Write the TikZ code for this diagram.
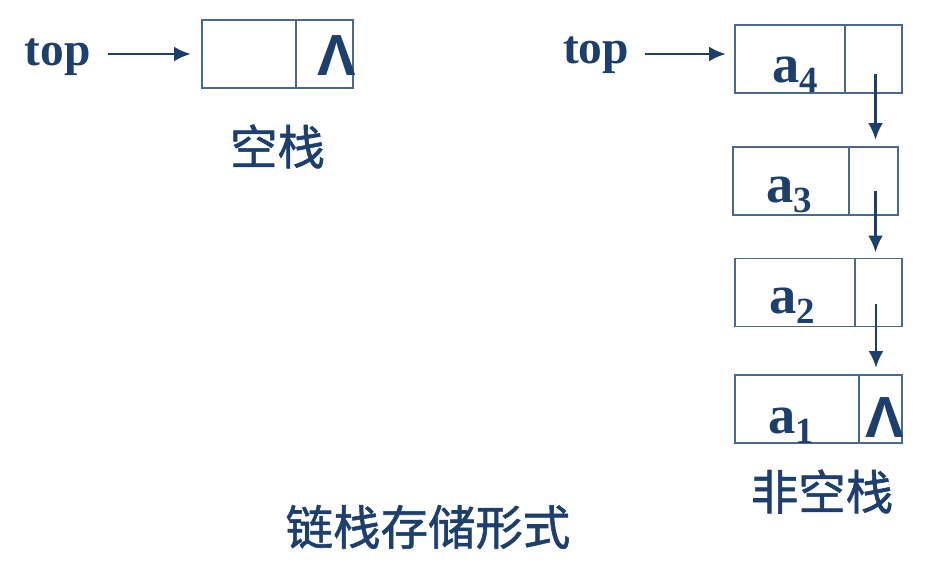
\documentclass[tikz,border=0pt]{standalone}
\usepackage{fontspec}
\setmainfont{Liberation Serif}
\newfontfamily\cjk[FakeBold=1.2]{Noto Sans CJK SC}
\newfontfamily\nilfont{Liberation Sans}
\usetikzlibrary{arrows.meta}
\definecolor{txtc}{HTML}{1C3F6E}
\definecolor{boxc}{HTML}{4A6890}
\newcommand{\elem}[1]{a\raisebox{-0.2em}{\fontsize{21}{21}\selectfont #1}}

\begin{document}
\begin{tikzpicture}[every node/.style={outer sep=0pt, inner sep=0pt, text=txtc},
  cell/.style={draw=boxc, line width=1.1pt, minimum height=1.36cm},
  toplbl/.style={font=\fontsize{27}{27}\selectfont\bfseries, anchor=base west},
  elbl/.style={font=\fontsize{31}{31}\selectfont\bfseries, anchor=base},
  nil/.style={font=\fontsize{33}{33}\selectfont\nilfont\bfseries, anchor=base},
  captxt/.style={font=\fontsize{27}{27}\selectfont\cjk},
  link/.style={draw=txtc, line width=1.6pt, -{Latex[length=3.4mm,width=3mm]}}]
\useasboundingbox (0,0) rectangle (18.64,-11.6);

\node[cell, minimum width=1.88cm] (d0) at (4.98,-1.08) {};
\node[cell, minimum width=1.14cm] (p0) at (6.49,-1.08) {};
\node[nil] (n0) at (6.73,-1.5) {Λ};
\node[toplbl] (top1) at (0.5,-1.3) {top};
\node[captxt] (c0) at (5.55,-2.93) {空栈};

\node[cell, minimum width=2.2cm] (d4) at (15.8,-1.18) {};
\node[cell, minimum width=1.14cm] (p4) at (17.47,-1.18) {};
\node[cell, minimum width=2.32cm] (d3) at (15.82,-3.62) {};
\node[cell, minimum width=0.98cm] (p3) at (17.47,-3.62) {};
\node[cell, minimum width=2.4cm] (d2) at (15.9,-5.85) {};
\node[cell, minimum width=0.94cm] (p2) at (17.57,-5.85) {};
\node[cell, minimum width=2.48cm] (d1) at (15.94,-8.18) {};
\node[cell, minimum width=0.86cm] (p1) at (17.61,-8.18) {};

\node[elbl] (e4) at (15.9,-1.64) {\elem{4}};
\node[elbl] (e3) at (15.79,-4.04) {\elem{3}};
\node[elbl] (e2) at (15.85,-6.26) {\elem{2}};
\node[elbl] (e1) at (15.83,-8.66) {\elem{1}};
\node[nil] (n1) at (17.69,-8.74) {Λ};
\node[toplbl] (top2) at (11.26,-1.27) {top};
\node[captxt] (c1) at (16.44,-9.83) {非空栈};

\node[captxt] (title) at (8.56,-10.54) {链栈存储形式};

\draw[link, shorten <=0.34cm, shorten >=0.22cm] (top1.east |- d0.west) -- (d0.west);
\draw[link, shorten <=0.32cm, shorten >=0.18cm] (top2.east |- d0.west) -- (d4.west |- d0.west);
\draw[link, shorten >=0.14cm] ([xshift=0.04cm,yshift=-0.3cm]p4.center) -- ([xshift=0.04cm]p4.center |- d3.north);
\draw[link, shorten >=0.12cm] ([xshift=0.04cm,yshift=-0.2cm]p3.center) -- ([xshift=0.04cm]p3.center |- d2.north);
\draw[link, shorten >=0.14cm] ([xshift=-0.05cm,yshift=-0.22cm]p2.center) -- ([xshift=-0.05cm]p2.center |- d1.north);
\end{tikzpicture}
\end{document}
